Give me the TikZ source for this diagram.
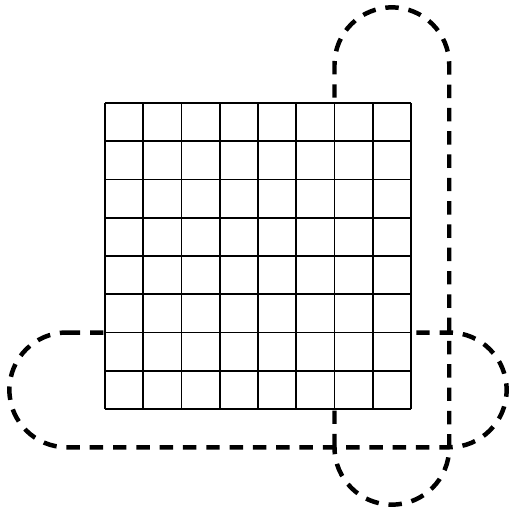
\documentclass[tikz,border=0pt]{standalone}
\usepackage{tikz}

\begin{document}
\begin{tikzpicture}[scale=0.75,
  loop/.style={line width=2.5pt,dash pattern=on 7.5pt off 5.5pt},
  board/.style={line width=0.85pt}]
\useasboundingbox (-2.745,-2.562) rectangle (10.588,10.693);
% the two loops, behind the board
\draw[loop] (6,-1) -- (6,9) arc[start angle=180,end angle=0,radius=1.5]
  -- (9,-1) arc[start angle=0,end angle=-180,radius=1.5] -- cycle;
\draw[loop] (-1,2) -- (9,2) arc[start angle=90,end angle=-90,radius=1.5]
  -- (-1,-1) arc[start angle=270,end angle=90,radius=1.5] -- cycle;
% the board
\fill[white] (0,0) rectangle (8,8);
\draw[board] (0,0) grid (8,8);
\end{tikzpicture}
\end{document}
